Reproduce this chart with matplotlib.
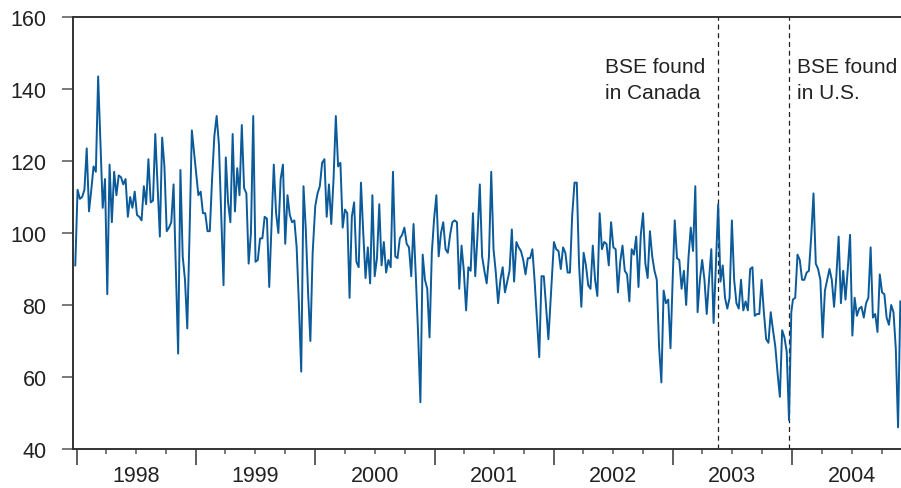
import numpy as np
import pandas as pd
import matplotlib
matplotlib.use('Agg')
import matplotlib.pyplot as plt
import matplotlib.dates as mdates
from matplotlib.ticker import FuncFormatter

plt.rcParams['font.family'] = ['Liberation Sans', 'DejaVu Sans']

# weekly values, one list per year
v1998 = [91, 112, 109.5, 110, 112, 123.5, 106, 112, 118.5, 117, 143.5, 125, 107, 115, 83, 119,
         103, 117, 110.5, 116, 115.5, 113.5, 115, 104.5, 110, 107, 111.5, 105, 104.5, 103.5, 113,
         108, 120.5, 108.5, 109, 127.5, 113, 99, 126.5, 118.5, 100.5, 101.5, 103, 113.5, 90, 66.5,
         117.5, 93.5, 87, 73.5, 100, 128.5]
v1999 = [110.5, 111.5, 105.5, 105.5, 100.5, 100.5, 115, 127, 132.5, 124.5, 105, 85.5, 121, 108.5,
         103, 127.5, 106, 118, 110.5, 130, 112.5, 111, 91.5, 100, 132.5, 92, 92.5, 98.5, 98.5,
         104.5, 104, 85, 102, 119, 105.5, 100, 115, 119, 97, 110.5, 105, 103, 103.5, 96, 80, 61.5,
         113, 101, 83.5, 70, 94.5]
v2000 = [107.5, 111, 113, 119.5, 120.5, 104.5, 113.5, 102.5, 115, 132.5, 118.5, 119.5, 101.5,
         106.5, 105.5, 82, 104.5, 108.5, 92, 90.5, 114, 100, 87.5, 96, 86, 110.5, 88, 93, 108, 91,
         97.5, 89, 92.5, 90.5, 117, 93.5, 93, 98.5, 99.5, 101.5, 97, 96, 88, 102.5, 88, 72, 53, 94,
         87, 84.5, 71, 94.5, 104]
v2001 = [110.5, 93.5, 100, 103, 95.5, 94.5, 99.5, 103, 103.5, 103, 84.5, 96.5, 89.5, 78.5, 90.5,
         89.5, 105.5, 88, 99.5, 113.5, 93.5, 89.5, 86, 93.5, 117, 95.5, 89, 80.5, 87, 90.5, 83.5,
         86.5, 89.5, 101, 86.5, 97.5, 96, 95, 92.5, 88.5, 93, 93, 95.5, 86.5, 76, 65.5, 88, 88,
         79.5, 70.5, 81.5]
v2002 = [97.5, 95.5, 95, 90, 96, 94.5, 89, 89, 105, 114, 114, 91, 79.5, 94.5, 91, 85.5, 84.5,
         96.5, 87, 82.5, 105.5, 95.5, 97.5, 97, 91, 103, 96, 95.5, 83.5, 92, 96.5, 89.5, 88.5, 81,
         95.5, 94, 99, 85, 99.5, 105.5, 91.5, 87.5, 100.5, 93.5, 89.5, 87, 68.5, 58.5, 84, 80.5,
         81.5, 68, 88]
v2003 = [103.5, 93, 92.5, 84.5, 89.5, 80, 93, 101.5, 95, 113, 78, 87, 92.5, 87, 77.5, 87, 95.5,
         75, 91, 108, 86.5, 91, 82, 79, 82, 103.5, 87, 80.5, 79, 87, 78.5, 81, 78.5, 90, 90.5, 77,
         77.5, 77.5, 87, 78, 70.5, 69.5, 78, 73, 68.5, 61, 54.5, 73, 71, 67, 48, 78]
v2004 = [81.5, 82, 94, 92.5, 87, 87, 89, 89.5, 99, 111, 91.5, 90, 87, 71, 84, 87, 90, 87, 79.5,
         88, 99, 80.5, 89.5, 81.5, 90, 99.5, 71.5, 82, 77, 79, 79.5, 76.5, 80.5, 82, 96, 76.5,
         77.5, 72.5, 88.5, 83.5, 83, 76.5, 74.5, 80, 78, 68, 46, 81]

year_values = [v1998, v1999, v2000, v2001, v2002, v2003, v2004]
year_starts = ['1997-12-27', '1999-01-08', '2000-01-01', '2001-01-06',
               '2002-01-01', '2003-01-06', '2004-01-03']

events = ['2003-05-20', '2003-12-23']
event_labels = ['BSE found\nin Canada', 'BSE found\nin U.S.']
label_dates = ['2002-06-07', '2004-01-15']

dates = []
values = []
for start, vals in zip(year_starts, year_values):
    dates.extend(pd.date_range(start, periods=len(vals), freq='7D'))
    values.extend(vals)
s = pd.Series(values, index=pd.DatetimeIndex(dates))

fig = plt.figure(figsize=(9.01, 4.89), dpi=100)
ax = fig.add_axes([73 / 901, 1 - 450 / 489, 828 / 901, 432 / 489])

ax.plot(s.index, s.values, color='#0b5a9a', lw=1.4, zorder=3)

for d in events:
    ax.axvline(pd.Timestamp(d), color='#222222', lw=0.9, ls=(0, (4, 3)), zorder=2)

for d, lab in zip(label_dates, event_labels):
    ax.text(pd.Timestamp(d), 149, lab, fontsize=15, color='#222222',
            va='top', ha='left', linespacing=1.5)

ax.set_ylim(40, 160)
ax.set_yticks(np.arange(40, 161, 20))
ax.set_xlim(pd.Timestamp('1997-12-20'), pd.Timestamp('2004-11-29'))

ax.xaxis.set_major_locator(mdates.YearLocator())
ax.xaxis.set_major_formatter(FuncFormatter(lambda x, p: ''))
ax.xaxis.set_minor_locator(mdates.MonthLocator(bymonth=[4, 7, 10]))
ax.xaxis.set_minor_formatter(FuncFormatter(
    lambda x, p: str(mdates.num2date(x).year) if mdates.num2date(x).month == 7 else ''))

for side in ['left', 'top', 'bottom']:
    ax.spines[side].set_color('#333333')
    ax.spines[side].set_linewidth(1.4)
ax.spines['right'].set_visible(False)

ax.tick_params(axis='y', direction='out', length=8, width=1.1, color='#555555',
               labelsize=15.5, pad=11, labelcolor='#222222')
ax.tick_params(axis='x', which='major', direction='out', length=11.5, width=1.1,
               color='#333333')
ax.tick_params(axis='x', which='minor', direction='out', length=3.5, width=1.1,
               color='#555555', labelsize=15.5, pad=8, labelcolor='#222222')

fig.savefig('out.png', dpi=100)
